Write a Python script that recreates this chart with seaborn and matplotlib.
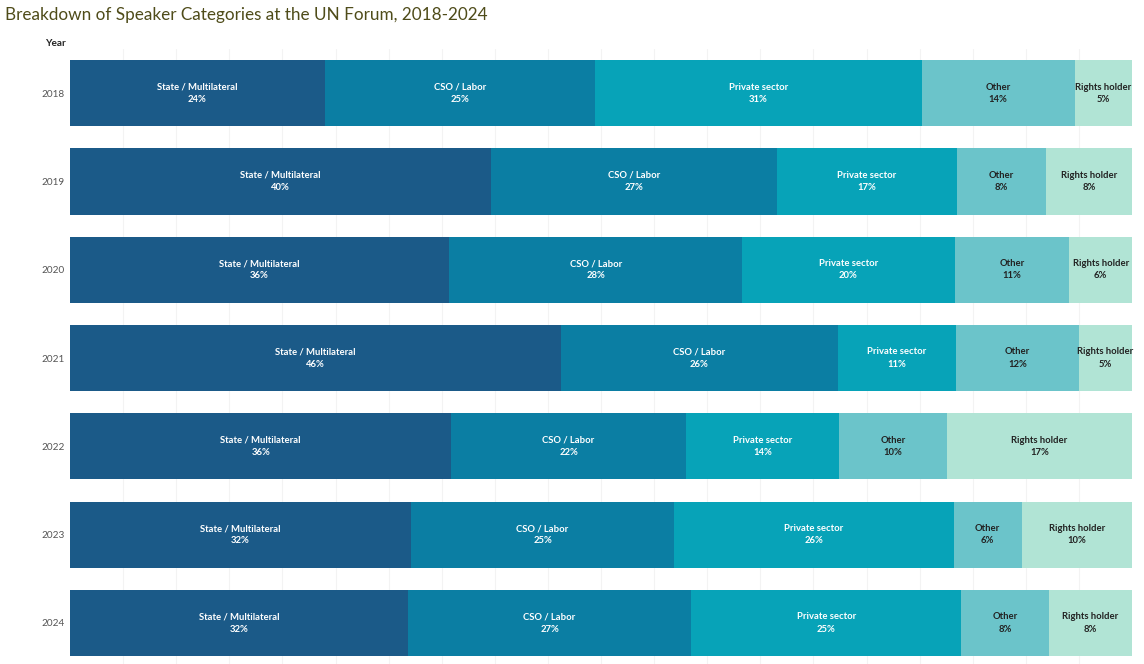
import matplotlib
matplotlib.use("Agg")
import matplotlib.pyplot as plt
import seaborn as sns
import pandas as pd
import numpy as np

years = ["2018", "2019", "2020", "2021", "2022", "2023", "2024"]
categories = ["State / Multilateral", "CSO / Labor", "Private sector", "Other", "Rights holder"]
state = [24.0, 39.6, 35.7, 46.2, 35.9, 32.1, 31.8]
cso = [25.4, 27.0, 27.6, 26.1, 22.1, 24.8, 26.7]
private = [30.8, 16.9, 20.0, 11.1, 14.4, 26.3, 25.4]
other = [14.4, 8.4, 10.8, 11.6, 10.2, 6.4, 8.3]
rights = [5.4, 8.1, 5.9, 5.0, 17.4, 10.4, 7.8]

colors = ["#1b5a88", "#0b7ea3", "#07a3b8", "#6bc4ca", "#b1e4d5"]
text_colors = ["white", "white", "white", "#222222", "#222222"]

sns.set_theme(style="white")
plt.rcParams["font.family"] = ["Lato", "DejaVu Sans"]

df = pd.DataFrame({"Year": years, categories[0]: state, categories[1]: cso,
                   categories[2]: private, categories[3]: other, categories[4]: rights})
vals = df[categories].to_numpy()
cum = np.cumsum(vals, axis=1)

W, H = 1144, 664
fig = plt.figure(figsize=(W / 100, H / 100), dpi=100)
ax_top = 49
ax = fig.add_axes([70 / W, 0, (1132 - 70) / W, (H - ax_top) / H])

for i in range(len(categories) - 1, -1, -1):
    d = pd.DataFrame({"Year": years, "end": cum[:, i]})
    sns.barplot(data=d, x="end", y="Year", orient="h", color=colors[i],
                width=0.75, saturation=1, edgecolor="none", linewidth=0, ax=ax, zorder=2)

for r in range(len(years)):
    for i in range(len(categories)):
        start = cum[r, i] - vals[r, i]
        cx = start + vals[r, i] / 2
        ax.text(cx, r, f"{categories[i]}\n{int(round(vals[r, i]))}%", ha="center", va="center",
                fontsize=6.8, color=text_colors[i], linespacing=1.45, zorder=3, fontweight="bold")

ax.set_xlim(0, 100)
ax.set_ylim(-0.5 + (H - ax_top) / 88.3, -0.5)
ax.set_xticks(np.arange(5, 100, 5))
ax.set_xticklabels([])
ax.xaxis.grid(True, color="#f3f3f3", linewidth=0.8, zorder=0)
ax.yaxis.grid(False)
ax.set_axisbelow(True)
for s in ax.spines.values():
    s.set_visible(False)
ax.tick_params(axis="y", length=0, pad=4, labelsize=7.2, labelcolor="#555555")
ax.tick_params(axis="x", length=0)
ax.set_xlabel("")
ax.set_ylabel("")

fig.text(66 / W, 1 - 43 / H, "Year", ha="right", va="center", fontsize=7.2,
         fontweight="bold", color="#222222")
fig.text(5 / W, 1 - 15 / H, "Breakdown of Speaker Categories at the UN Forum, 2018-2024",
         ha="left", va="center", fontsize=12.3, color="#4f4c1a")

fig.savefig("out.png", dpi=100)
